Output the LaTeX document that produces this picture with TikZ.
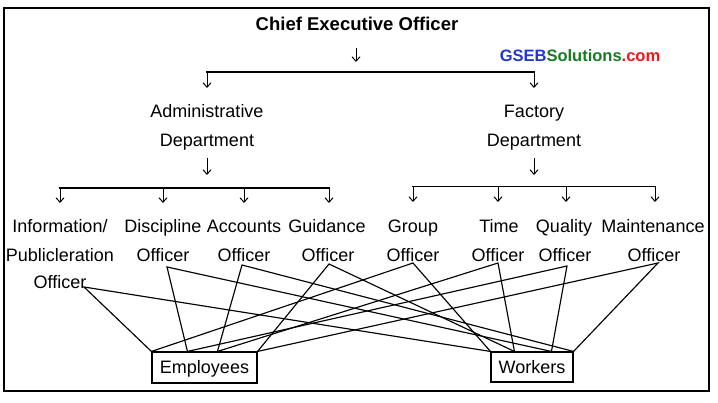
\documentclass[tikz,border=0pt]{standalone}
\usepackage{fontspec}
\setmainfont{Liberation Sans}
\usetikzlibrary{arrows.meta}
\definecolor{gsebblue}{RGB}{35,55,205}
\definecolor{gsebgreen}{RGB}{25,120,35}
\definecolor{gsebred}{RGB}{225,30,30}
\begin{document}
\begin{tikzpicture}[x=1pt,y=-1pt,
  >={Straight Barb[length=4.5pt,width=8pt]},
  txt/.style={font=\fontsize{18}{20}\selectfont, anchor=base, inner sep=0pt},
  ttl/.style={font=\bfseries\fontsize{18.5}{20}\selectfont, anchor=base, inner sep=0pt},
  wm/.style={font=\bfseries\fontsize{16.5}{18}\selectfont, anchor=base, inner sep=0pt},
  arr/.style={line width=1pt, ->},
  brk/.style={line width=1.4pt, line cap=rect},
  link/.style={line width=1.15pt},
  box/.style={draw, line width=1.1pt, font=\fontsize{18}{20}\selectfont, inner sep=0pt,
    text height=13pt, text depth=0pt}]
\useasboundingbox (0,0) rectangle (718,403);
\draw[line width=1.5pt] (4,8) rectangle (709,391);

% top level
\node[ttl] (ceo) at (357,31) {Chief Executive Officer};
\node[wm] (wm) at (580,61.5) {\textcolor{gsebblue}{GSEB}\textcolor{gsebgreen}{Solutions}\textcolor{gsebred}{.com}};
\draw[arr] (356,48) -- (356,62);
\draw[brk] (207,72) -- (534,72);
\draw[arr] (207,72) -- (207,88);
\draw[arr] (534,72) -- (534,88);

% departments
\node[txt] (adm1) at (207,118) {Administrative};
\node[txt] (adm2) at (207,146.5) {Department};
\node[txt] (fac1) at (534,118) {Factory};
\node[txt] (fac2) at (534,146.5) {Department};
\draw[arr] (207,158) -- (207,175);
\draw[arr] (534,158) -- (534,175);

% lower brackets
\draw[brk] (60,188) -- (329,188);
\foreach \x in {60,163,244,329} \draw[arr] (\x,188) -- (\x,203);
\draw[brk] (413,186.5) -- (655,186.5);
\foreach \x in {413,498,566,655} \draw[arr] (\x,186.5) -- (\x,202);

% officers
\node[txt] (inf1) at (60,233) {Information/};
\node[txt] (inf2) at (60,262) {Publicleration};
\node[txt] (inf3) at (60,289) {Officer};
\node[txt] (dis1) at (163,233) {Discipline};
\node[txt] (dis2) at (163,262) {Officer};
\node[txt] (acc1) at (244,233) {Accounts};
\node[txt] (acc2) at (244,262) {Officer};
\node[txt] (gui1) at (327,233) {Guidance};
\node[txt] (gui2) at (328,262) {Officer};
\node[txt] (grp1) at (413,233) {Group};
\node[txt] (grp2) at (413,262) {Officer};
\node[txt] (tim1) at (499,233) {Time};
\node[txt] (tim2) at (498,262) {Officer};
\node[txt] (qua1) at (564,233) {Quality};
\node[txt] (qua2) at (565,262) {Officer};
\node[txt] (mai1) at (653,233) {Maintenance};
\node[txt] (mai2) at (654,262) {Officer};

% boxes
\node[box, minimum width=105pt, minimum height=31pt] (emp) at (204.5,367.5) {Employees};
\node[box, minimum width=82pt, minimum height=30pt] (wor) at (532,367) {Workers};

% connection points
\coordinate (pinf) at (84,287);
\coordinate (pdis) at (167,267);
\coordinate (pacc) at (242,265);
\coordinate (pgui) at (329,264);
\coordinate (pgrp) at (413,263);
\coordinate (ptim) at (498,263);
\coordinate (pqua) at (567,266);
\coordinate (pmai) at (658,263);
\coordinate (e1) at (emp.north west);
\coordinate (e2) at ([xshift=36pt]emp.north west);
\coordinate (e3) at ([xshift=66pt]emp.north west);
\coordinate (e4) at (emp.north east);
\coordinate (w1) at (wor.north west);
\coordinate (w2) at ([xshift=24pt]wor.north west);
\coordinate (w3) at ([xshift=61pt]wor.north west);
\coordinate (w4) at (wor.north east);

\draw[link] (e1) -- (pinf) -- (w1);
\draw[link] (e2) -- (pdis) -- (w3);
\draw[link] (e3) -- (pacc) -- (w4);
\draw[link] (e4) -- (pgui) -- (w2);
\draw[link] (e1) -- (pgrp) -- (w1);
\draw[link] (e3) -- (ptim) -- (w2);
\draw[link] (e2) -- (pqua) -- (w3);
\draw[link] (e4) -- (pmai) -- (w4);
\end{tikzpicture}
\end{document}
